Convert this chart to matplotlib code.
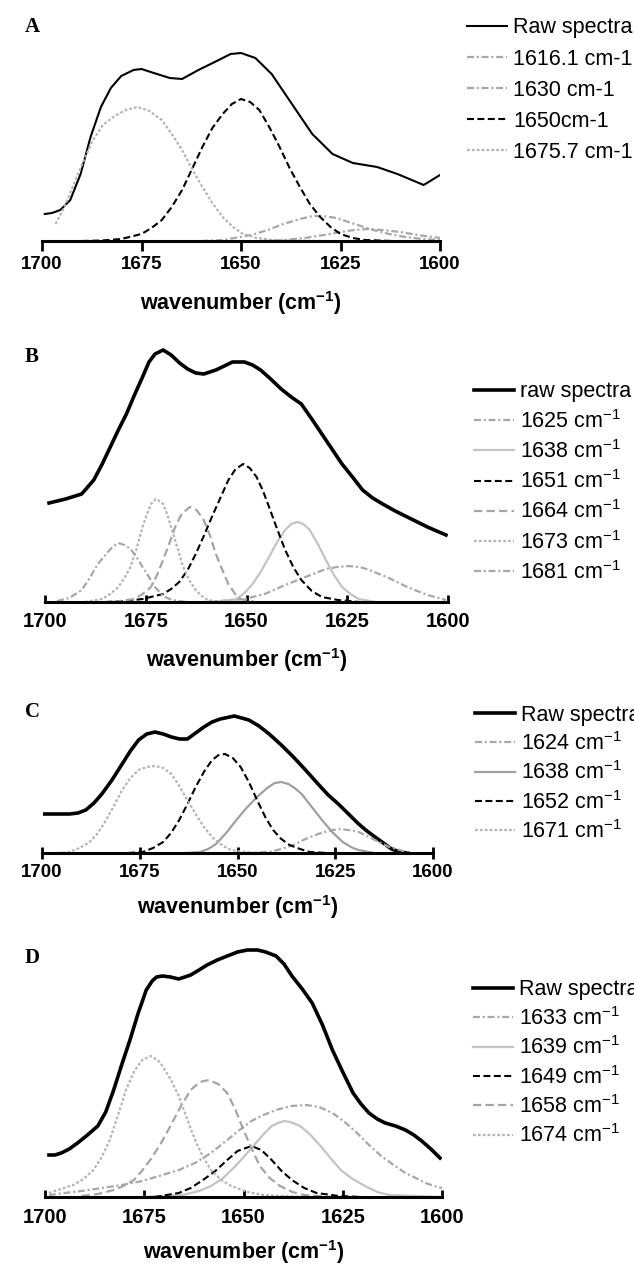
import numpy as np
import matplotlib.pyplot as plt

# ---- data (wavenumber, height above baseline) ----
ticks = [1700, 1675, 1650, 1625, 1600]

# panel A
a_raw_wn = [1699.3, 1697.5, 1695.4, 1692.9, 1690.3, 1687.8, 1685.2, 1682.7, 1680.1, 1677.0, 1675.0,
            1671.9, 1667.9, 1664.8, 1660.7, 1656.6, 1652.6, 1650.0, 1646.4, 1642.3, 1637.2, 1632.1,
            1627.0, 1621.9, 1615.8, 1610.7, 1606.5, 1604.1, 1600.0]
a_raw_h = [27, 28, 31, 41, 67, 104, 134, 153, 165, 171, 172, 168, 163, 162, 171, 179, 187, 188, 183,
           167, 137, 107, 87, 78, 74, 67, 60, 56, 66]
a_1616_wn = [1645, 1639.3, 1634, 1629.1, 1625, 1621.5, 1618, 1614.5, 1610, 1605.6, 1600]
a_1616_h = [0, 1, 3, 6, 9, 11, 12, 11, 9, 6, 3]
a_1630_wn = [1660, 1654.6, 1647.4, 1643.3, 1639.3, 1635.2, 1632.0, 1629.5, 1626.0, 1623.0, 1619.9,
             1616.8, 1612.8, 1608.7, 1604.4, 1600.0]
a_1630_h = [0, 1, 6, 11, 17, 22, 25, 25, 23, 19, 15, 11, 7, 4, 2, 1]
a_1650_wn = [1690, 1685, 1680.1, 1675.0, 1672.5, 1669.9, 1667.4, 1664.8, 1662.3, 1659.7, 1657.2,
             1654.6, 1652.3, 1650.0, 1647.7, 1645.4, 1642.9, 1640.3, 1637.8, 1635.2, 1632.7, 1630.1,
             1627.5, 1625.0, 1621.9, 1618.9, 1612]
a_1650_h = [0, 0.5, 2, 7, 13, 21, 34, 51, 72, 94, 113, 127, 137, 142, 139, 131, 114, 94, 73, 54, 37,
            24, 14, 7, 3, 1, 0]
a_1676_wn = [1696.6, 1694.5, 1692.3, 1689.8, 1687.2, 1684.7, 1682.1, 1679.0, 1676.0, 1673.0, 1669.9,
             1667.4, 1664.8, 1662.3, 1659.7, 1657.2, 1654.6, 1652.0, 1649.5, 1646.0, 1642, 1630]
a_1676_h = [17, 33, 54, 78, 101, 116, 124, 131, 134, 130, 121, 107, 91, 72, 54, 38, 24, 14, 7, 3, 1, 0]

# panel B
b_raw_wn = [1699.0, 1694.9, 1690.9, 1687.9, 1685.8, 1683.8, 1681.8, 1679.8, 1677.8, 1675.8, 1674.2,
            1672.7, 1670.7, 1668.7, 1666.6, 1664.6, 1662.6, 1660.6, 1657.6, 1655.5, 1653.5, 1650.5,
            1648.5, 1646.5, 1644.0, 1641.4, 1638.9, 1636.4, 1633.8, 1631.3, 1628.8, 1626.3, 1623.7,
            1621.2, 1618.7, 1616.2, 1613.1, 1610.1, 1607.6, 1605.1, 1600.5]
b_raw_h = [99, 103, 108, 122, 138, 155, 172, 188, 207, 225, 240, 248, 252, 247, 239, 233, 229, 228,
           232, 236, 240, 240, 237, 232, 223, 213, 205, 198, 183, 168, 153, 138, 125, 112, 104, 98,
           91, 85, 80, 75, 67]
b_1625_wn = [1660, 1650.5, 1645.5, 1640.4, 1635.4, 1630.3, 1627.5, 1624.7, 1622.0, 1620.2, 1615.2,
             1610.1, 1605.1, 1600.5]
b_1625_h = [0, 3, 8, 17, 25, 33, 35, 36, 35, 33, 25, 15, 7, 2]
b_1638_wn = [1657, 1652.5, 1650.5, 1648.5, 1646.5, 1644.4, 1642.4, 1640.4, 1638.9, 1637.4, 1635.9,
             1634.3, 1632.3, 1630.3, 1628.3, 1626.3, 1624.2, 1622.2, 1618]
b_1638_h = [0, 3, 9, 18, 30, 45, 60, 72, 78, 80, 78, 72, 58, 42, 27, 15, 8, 3, 0]
b_1651_wn = [1685, 1680, 1675.8, 1670.7, 1668.7, 1666.7, 1664.6, 1662.6, 1660.6, 1658.6, 1656.5,
             1654.5, 1652.7, 1650.8, 1649.2, 1647.5, 1646.0, 1644.4, 1642.4, 1640.4, 1638.4, 1636.4,
             1633.8, 1631.3, 1627.3, 1622]
b_1651_h = [0, 1, 3, 8, 13, 20, 32, 48, 66, 85, 104, 122, 133, 138, 134, 125, 112, 95, 73, 52, 35,
            22, 11, 5, 2, 0]
b_1664_wn = [1683, 1677.8, 1675.8, 1673.7, 1672.2, 1670.7, 1669.2, 1667.7, 1666.1, 1664.1, 1662.4,
             1660.6, 1659.1, 1657.6, 1656.0, 1654.5, 1653.0, 1651.5, 1648]
b_1664_h = [0, 3, 8, 15, 27, 42, 58, 75, 88, 95, 92, 82, 67, 48, 32, 18, 9, 3, 0]
b_1673_wn = [1690, 1685.9, 1683.8, 1681.8, 1680.3, 1678.8, 1677.3, 1675.8, 1674.7, 1673.7, 1672.5,
             1671.2, 1670.7, 1669.7, 1668.7, 1667.2, 1665.7, 1664.1, 1662.6, 1661.1, 1659.6, 1656]
b_1673_h = [0, 3, 8, 15, 24, 35, 53, 75, 88, 98, 103, 100, 98, 88, 75, 55, 35, 21, 12, 6, 2, 0]
b_1681_wn = [1697, 1694, 1690.9, 1688.9, 1686.9, 1684.8, 1683.3, 1681.8, 1680.3, 1678.8, 1677.3,
             1675.8, 1674.2, 1672.7, 1670.7, 1668.5, 1665]
b_1681_h = [1, 4, 12, 24, 38, 48, 55, 59, 57, 53, 45, 35, 25, 15, 6, 2, 0]

# panel C
c_raw_wn = [1699.3, 1696, 1693, 1690.8, 1688.8, 1686.7, 1684.7, 1682.1, 1679.5, 1677.4, 1675.3,
            1673.2, 1671.1, 1669.0, 1666.9, 1664.8, 1662.8, 1660.7, 1658.6, 1656.5, 1654.4, 1650.8,
            1647.1, 1644.5, 1641.9, 1638.8, 1635.7, 1632.6, 1629.4, 1626.8, 1624.2, 1621.6, 1619.0,
            1616.9, 1614.8, 1612.7, 1610.6, 1608.5, 1606.5]
c_raw_h = [39, 39, 39, 40, 43, 50, 59, 73, 89, 102, 113, 119, 121, 119, 116, 114, 114, 120, 126, 131,
           134, 137, 133, 127, 119, 108, 96, 83, 69, 58, 49, 39, 29, 22, 16, 10, 4, 1, 0]
c_1624_wn = [1648, 1641.9, 1638.8, 1635.7, 1632.6, 1629.4, 1626.8, 1624.2, 1621.6, 1619.0, 1616.4,
             1613.8, 1611.2, 1608.5, 1606]
c_1624_h = [0, 1, 4, 8, 14, 19, 22, 24, 23, 21, 16, 11, 6, 3, 0]
c_1638_wn = [1663, 1659.6, 1657.5, 1655.5, 1652.9, 1650.3, 1647.7, 1645.0, 1642.4, 1640.5, 1638.8,
             1637.0, 1635.4, 1633.6, 1631.0, 1628.4, 1625.8, 1623.1, 1620.5, 1619.0, 1615]
c_1638_h = [0, 1, 4, 9, 20, 33, 45, 56, 65, 70, 71, 69, 65, 59, 46, 33, 21, 11, 5, 3, 0]
c_1652_wn = [1678, 1674.2, 1671.6, 1669.0, 1667.0, 1664.9, 1662.8, 1660.7, 1658.6, 1656.5, 1654.8,
             1653.2, 1651.2, 1649.2, 1647.1, 1645.0, 1642.9, 1640.9, 1638.8, 1636.7, 1634.0, 1631.5, 1627]
c_1652_h = [0, 1, 5, 11, 20, 33, 49, 66, 81, 93, 98, 99, 95, 86, 71, 53, 36, 23, 14, 8, 4, 1, 0]
c_1671_wn = [1696, 1693, 1690.4, 1687.8, 1685.7, 1683.6, 1681.5, 1679.5, 1677.4, 1675.3, 1673.2,
             1671.1, 1669.0, 1666.9, 1664.9, 1662.8, 1660.7, 1658.6, 1656.5, 1654.4, 1652.3, 1650.3, 1646]
c_1671_h = [0, 1, 5, 11, 20, 33, 48, 63, 75, 83, 86, 87, 85, 79, 67, 53, 39, 26, 16, 9, 4, 2, 0]

# panel D
d_raw_wn = [1699.0, 1697.5, 1695.9, 1693.9, 1691.8, 1689.3, 1686.7, 1684.7, 1682.7, 1680.7, 1678.6,
            1676.6, 1674.5, 1673.0, 1671.9, 1670.4, 1668.4, 1666.3, 1664.8, 1663.3, 1661.2, 1659.2,
            1656.6, 1654.1, 1651.5, 1649.0, 1646.5, 1644.4, 1641.8, 1639.8, 1637.8, 1635.2, 1632.7,
            1630.1, 1627.6, 1625.0, 1622.4, 1620.4, 1618.4, 1616.3, 1614.3, 1611.7, 1609.2, 1607.1,
            1605.1, 1602.8, 1600.5]
d_raw_h = [42, 42, 44, 48, 54, 62, 71, 85, 107, 132, 157, 183, 207, 216, 220, 221, 220, 218, 220, 222,
           227, 232, 237, 241, 245, 247, 247, 245, 241, 233, 221, 208, 194, 172, 147, 125, 104, 93,
           84, 78, 74, 71, 67, 62, 56, 48, 39]
d_1633_wn = [1699, 1695, 1690.8, 1685.7, 1680.6, 1675.5, 1670.4, 1666.3, 1662.2, 1658.2, 1654.1,
             1651.0, 1648.0, 1645.0, 1641.8, 1638.0, 1634.2, 1630.9, 1627.6, 1624.5, 1621.4, 1618.4,
             1615.3, 1612.2, 1609.2, 1606.6, 1604.1, 1602, 1600]
d_1633_h = [2, 4, 6, 9, 12, 16, 22, 27, 34, 44, 57, 67, 76, 82, 87, 91, 92, 90, 84, 75, 64, 52, 41,
            32, 24, 19, 14, 11, 9]
d_1639_wn = [1675, 1665.3, 1661.2, 1658.2, 1655.1, 1652.0, 1649.5, 1646.9, 1644.9, 1642.9, 1641.3,
             1639.8, 1638.2, 1635.7, 1633.1, 1630.6, 1628.1, 1625.5, 1622.5, 1619.4, 1616.3, 1613.3,
             1607, 1600]
d_1639_h = [0, 2, 6, 11, 19, 31, 42, 54, 63, 71, 74, 76, 75, 71, 62, 51, 39, 27, 18, 11, 5, 2, 1, 0]
d_1649_wn = [1672.4, 1666.3, 1663.3, 1660.2, 1657.1, 1654.1, 1651.5, 1648.0, 1645.5, 1642.9, 1640.4,
             1637.8, 1634.7, 1631.6, 1626, 1620]
d_1649_h = [0, 4, 9, 17, 26, 37, 46, 51, 47, 37, 26, 17, 9, 4, 1, 0]
d_1658_wn = [1690.8, 1686.7, 1682.7, 1680.2, 1677.6, 1675.6, 1673.5, 1670.9, 1668.4, 1665.9, 1663.3,
             1661.0, 1658.7, 1656.4, 1654.1, 1652.0, 1650.0, 1647.9, 1645.9, 1643.4, 1640.8, 1637.7,
             1634.7, 1628]
d_1658_h = [1, 3, 7, 11, 17, 26, 37, 53, 71, 90, 107, 115, 117, 113, 104, 87, 67, 48, 31, 19, 11, 5, 2, 0]
d_1674_wn = [1699, 1696, 1692.9, 1690.3, 1687.8, 1685.7, 1683.7, 1681.6, 1679.6, 1677.5, 1675.5,
             1673.3, 1671.4, 1670.4, 1668.4, 1666.3, 1664.3, 1662.2, 1660.2, 1658.2, 1655.6, 1653.1,
             1649, 1644.9, 1635]
d_1674_h = [4, 8, 12, 18, 27, 40, 57, 82, 107, 126, 137, 141, 136, 131, 118, 101, 79, 57, 40, 27, 17,
            11, 5, 2, 0]

# ---- styling ----
plt.rcParams['font.family'] = ['Liberation Sans', 'DejaVu Sans']
plt.rcParams['mathtext.fontset'] = 'custom'
plt.rcParams['mathtext.rm'] = 'Liberation Sans'
plt.rcParams['mathtext.bf'] = 'Liberation Sans:bold'
plt.rcParams['mathtext.default'] = 'regular'
plt.rcParams['lines.scale_dashes'] = False

raw_thin = dict(color='black', lw=1.5)
raw_thick = dict(color='black', lw=2.6)
blk_dash = dict(color='black', lw=1.5, dashes=(5, 2.5))
dotted = dict(color='#b5b5b5', lw=1.6, dashes=(2, 1.5))
dashdot = dict(color='#a8a8a8', lw=1.6, dashes=(5, 2, 1.5, 2))
gray_dash = dict(color='#a5a5a5', lw=1.6, dashes=(6, 3))
light_solid = dict(color='#c4c4c4', lw=1.6)
mid_solid = dict(color='#a0a0a0', lw=1.6)

W, H = 634, 1266
fig = plt.figure(figsize=(W / 100, H / 100), dpi=100)


def panel(left, right, bottom, height, tdir, tlen, pad, fs):
    ax = fig.add_axes([left / W, 1 - bottom / H, (right - left) / W, height / H])
    ax.set_xlim(1700, 1600)
    ax.set_ylim(0, height)
    for s in ['top', 'left', 'right']:
        ax.spines[s].set_visible(False)
    ax.spines['bottom'].set_linewidth(2.2)
    ax.set_yticks([])
    ax.set_xticks(ticks)
    ax.tick_params(axis='x', direction=tdir, length=tlen, width=2, pad=pad, labelsize=fs)
    for lab in ax.get_xticklabels():
        lab.set_fontweight('bold')
    ax.patch.set_visible(False)
    return ax


def finish(ax, letter, lx, ly, xlab_y, leg_x, leg_y, lspace):
    fig.text(lx / W, 1 - ly / H, letter, fontfamily='Liberation Serif', fontweight='bold',
             fontsize=15, ha='center', va='center')
    fig.text(0.5 * (ax.get_position().x0 + ax.get_position().x1), 1 - xlab_y / H,
             r'wavenumber (cm$^{\mathbf{-1}}$)', fontsize=15.5, fontweight='bold',
             ha='center', va='center')
    ax.legend(loc='upper left', bbox_to_anchor=(leg_x / W, 1 - leg_y / H),
              bbox_transform=fig.transFigure, frameon=False, fontsize=15.5,
              handlelength=1.85, handletextpad=0.3, labelspacing=lspace,
              borderpad=0, borderaxespad=0)


cm = r' cm$^{-1}$'

# A
ax = panel(42, 440, 241, 200, 'out', 7, 4, 13.5)
ax.plot(a_raw_wn, a_raw_h, label='Raw spectra', **raw_thin)
ax.plot(a_1616_wn, a_1616_h, label='1616.1 cm-1', **dashdot)
ax.plot(a_1630_wn, a_1630_h, label='1630 cm-1', **dashdot)
ax.plot(a_1650_wn, a_1650_h, label='1650cm-1', **blk_dash)
ax.plot(a_1676_wn, a_1676_h, label='1675.7 cm-1', **dotted)
finish(ax, 'A', 32, 27, 303, 467, 17.5, 0.47)

# B
ax = panel(45, 448, 602, 260, 'in', 5, 7, 14.5)
ax.plot(b_raw_wn, b_raw_h, label='raw spectra', **raw_thick)
ax.plot(b_1625_wn, b_1625_h, label='1625' + cm, **dashdot)
ax.plot(b_1638_wn, b_1638_h, label='1638' + cm, **light_solid)
ax.plot(b_1651_wn, b_1651_h, label='1651' + cm, **blk_dash)
ax.plot(b_1664_wn, b_1664_h, label='1664' + cm, **gray_dash)
ax.plot(b_1673_wn, b_1673_h, label='1673' + cm, **dotted)
ax.plot(b_1681_wn, b_1681_h, label='1681' + cm, **dashdot)
finish(ax, 'B', 32, 357, 660, 474, 381.5, 0.34)

# C
ax = panel(42, 433, 853, 150, 'inout', 8, 4, 13.5)
ax.plot(c_raw_wn, c_raw_h, label='Raw spectra', **raw_thick)
ax.plot(c_1624_wn, c_1624_h, label='1624' + cm, **dashdot)
ax.plot(c_1638_wn, c_1638_h, label='1638' + cm, **mid_solid)
ax.plot(c_1652_wn, c_1652_h, label='1652' + cm, **blk_dash)
ax.plot(c_1671_wn, c_1671_h, label='1671' + cm, **dotted)
finish(ax, 'C', 32, 712, 907, 475, 704.5, 0.3)

# D
ax = panel(45, 442, 1197, 262, 'in', 5, 8, 14.5)
ax.plot(d_raw_wn, d_raw_h, label='Raw spectra', **raw_thick)
ax.plot(d_1633_wn, d_1633_h, label='1633' + cm, **dashdot)
ax.plot(d_1639_wn, d_1639_h, label='1639' + cm, **light_solid)
ax.plot(d_1649_wn, d_1649_h, label='1649' + cm, **blk_dash)
ax.plot(d_1658_wn, d_1658_h, label='1658' + cm, **gray_dash)
ax.plot(d_1674_wn, d_1674_h, label='1674' + cm, **dotted)
finish(ax, 'D', 32, 958, 1252, 473, 979.5, 0.3)

fig.savefig('out.png', dpi=100)
